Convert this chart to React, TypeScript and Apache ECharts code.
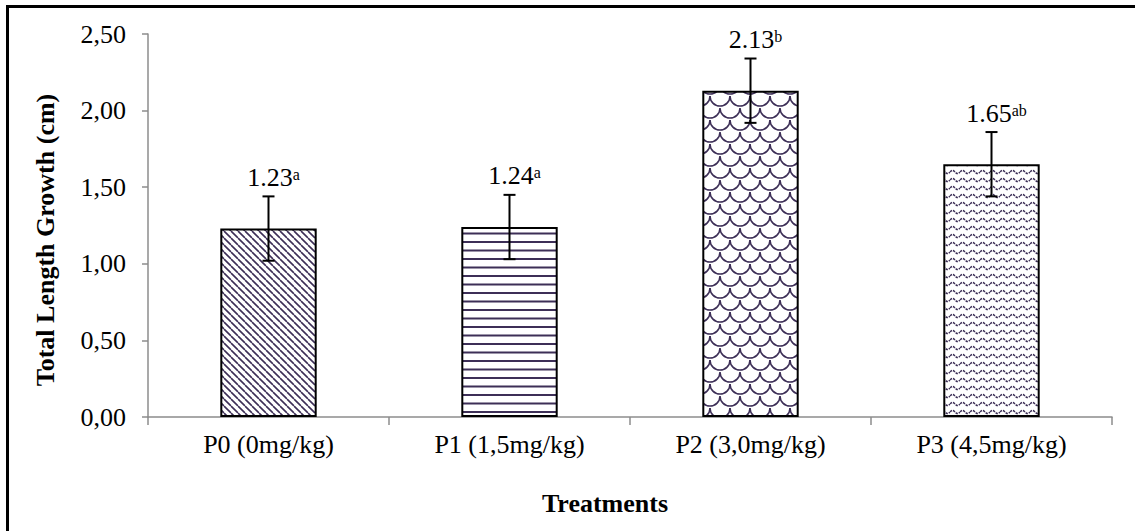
import React, { useEffect, useRef } from 'react';
import * as echarts from 'echarts';

const categories = ['P0 (0mg/kg)', 'P1 (1,5mg/kg)', 'P2 (3,0mg/kg)', 'P3 (4,5mg/kg)'];
const means = [1.23, 1.24, 2.13, 1.65];
const errors = [0.21, 0.21, 0.21, 0.21];
const letters = ['a', 'a', 'b', 'ab'];
const yTitle = 'Total Length Growth (cm)';
const xTitle = 'Treatments';

const FONT = '"Liberation Serif", "Times New Roman", serif';
const INK = '#3d2f57';

function tile(w: number, h: number, draw: (ctx: CanvasRenderingContext2D) => void) {
  const c = document.createElement('canvas');
  c.width = w;
  c.height = h;
  const ctx = c.getContext('2d')!;
  ctx.fillStyle = '#ffffff';
  ctx.fillRect(0, 0, w, h);
  ctx.strokeStyle = INK;
  ctx.fillStyle = INK;
  draw(ctx);
  return { image: c, repeat: 'repeat', imageWidth: w, imageHeight: h } as any;
}

function patterns() {
  const diag = tile(7, 7, (ctx) => {
    ctx.lineWidth = 1.6;
    ctx.beginPath();
    for (const k of [-7, 0, 7]) {
      ctx.moveTo(k, 0);
      ctx.lineTo(k + 7, 7);
    }
    ctx.stroke();
  });
  const horiz = tile(4, 17, (ctx) => {
    ctx.fillRect(0, 3, 4, 2);
    ctx.fillRect(0, 11.5, 4, 2);
  });
  const scales = tile(20, 24, (ctx) => {
    ctx.lineWidth = 1.6;
    const centers = [[0, 0], [20, 0], [10, 12], [0, 24], [20, 24]];
    for (const [cx, cy] of centers) {
      ctx.beginPath();
      ctx.arc(cx, cy, 10, 0, Math.PI);
      ctx.stroke();
    }
  });
  const wavy = tile(10, 8, (ctx) => {
    ctx.lineWidth = 1.5;
    ctx.setLineDash([2.5, 1]);
    ctx.beginPath();
    for (let x = 0; x <= 10; x += 0.5) {
      const y = 4 - 1.6 * Math.sin((2 * Math.PI * x) / 10);
      if (x === 0) ctx.moveTo(x, y);
      else ctx.lineTo(x, y);
    }
    ctx.stroke();
  });
  return [diag, horiz, scales, wavy];
}

export default function App() {
  const ref = useRef<HTMLDivElement>(null);
  useEffect(() => {
    document.body.style.margin = '0';
    const chart = echarts.init(ref.current!, undefined, { renderer: 'svg' });
    const pats = patterns();
    const axisGrey = '#8c8c8c';
    chart.setOption({
      animation: false,
      backgroundColor: '#ffffff',
      grid: { left: 148, top: 34, right: 23, bottom: 114, containLabel: false },
      xAxis: {
        type: 'category',
        data: categories,
        axisLine: { show: true, lineStyle: { color: axisGrey, width: 1.5 } },
        axisTick: { show: true, alignWithLabel: false, length: 8, lineStyle: { color: axisGrey, width: 1.5 } },
        axisLabel: { fontSize: 26, color: '#000', fontFamily: FONT, margin: 14 },
        splitLine: { show: false },
      },
      yAxis: {
        type: 'value',
        min: 0,
        max: 2.5,
        interval: 0.5,
        axisLine: { show: true, lineStyle: { color: axisGrey, width: 1.5 } },
        axisTick: { show: true, length: 6, lineStyle: { color: axisGrey, width: 1.5 } },
        axisLabel: {
          fontSize: 26,
          color: '#000',
          fontFamily: FONT,
          margin: 22,
          formatter: (v: number) => v.toFixed(2).replace('.', ','),
        },
        splitLine: { show: false },
      },
      series: [
        {
          type: 'bar',
          barWidth: '40%',
          data: means.map((m, i) => ({
            value: m,
            itemStyle: { color: pats[i], borderColor: '#000', borderWidth: 2 },
          })),
        },
        {
          type: 'custom',
          z: 10,
          data: means.map((m, i) => [i, m, errors[i]]),
          renderItem: (params: any, api: any) => {
            const i = api.value(0);
            const m = api.value(1);
            const e = api.value(2);
            const top = api.coord([i, m + e]);
            const bot = api.coord([i, m - e]);
            const x = top[0];
            const hw = 6;
            const st = { stroke: '#000', lineWidth: 2 };
            return {
              type: 'group',
              children: [
                { type: 'line', shape: { x1: x, y1: top[1], x2: x, y2: bot[1] }, style: st },
                { type: 'line', shape: { x1: x - hw, y1: top[1], x2: x + hw, y2: top[1] }, style: st },
                { type: 'line', shape: { x1: x - hw, y1: bot[1], x2: x + hw, y2: bot[1] }, style: st },
                {
                  type: 'text',
                  x: x + 5,
                  y: top[1] - 5,
                  style: {
                    text: `{v|${m.toFixed(2)}}{s|${letters[params.dataIndex]}}`,
                    align: 'center',
                    verticalAlign: 'bottom',
                    rich: {
                      v: { fontSize: 26, fontFamily: FONT, fill: '#000', lineHeight: 28 },
                      s: { fontSize: 16, fontFamily: FONT, fill: '#000', verticalAlign: 'top', lineHeight: 16, padding: [3, 0, 0, 0] },
                    },
                  },
                },
              ],
            };
          },
        },
      ],
      graphic: [
        { type: 'line', shape: { x1: 6, y1: 6.5, x2: 1135, y2: 6.5 }, style: { stroke: '#000', lineWidth: 3 } },
        { type: 'line', shape: { x1: 7.5, y1: 5, x2: 7.5, y2: 531 }, style: { stroke: '#000', lineWidth: 3 } },
        {
          type: 'text',
          x: 45,
          y: 240,
          rotation: Math.PI / 2,
          style: { text: yTitle, font: `bold 26px ${FONT}`, fill: '#000', align: 'center', verticalAlign: 'middle' },
        },
        {
          type: 'text',
          x: 605,
          y: 503,
          style: { text: xTitle, font: `bold 26px ${FONT}`, fill: '#000', align: 'center', verticalAlign: 'middle' },
        },
      ],
    });
    return () => chart.dispose();
  }, []);
  return <div ref={ref} style={{ width: 1135, height: 531 }} />;
}
